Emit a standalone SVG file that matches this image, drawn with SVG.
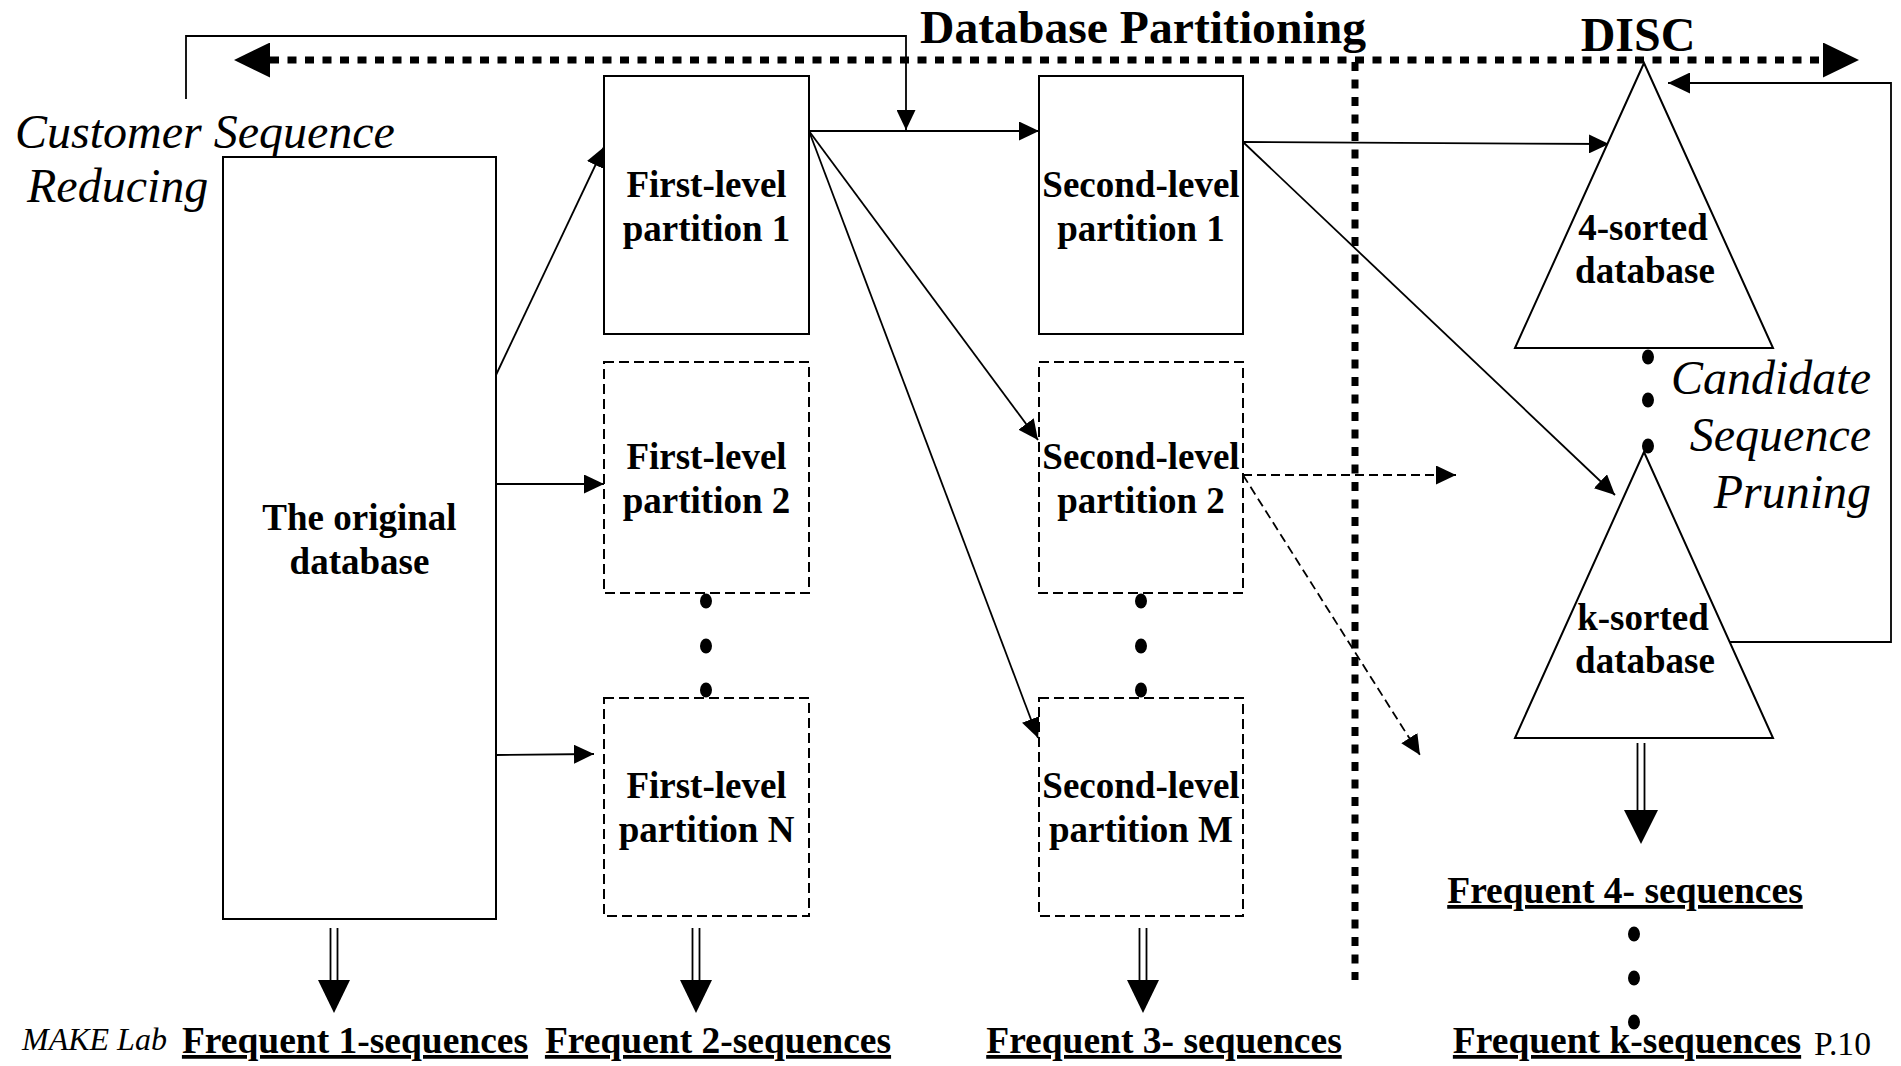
<svg xmlns="http://www.w3.org/2000/svg" width="1901" height="1066" viewBox="0 0 1901 1066">
<style>
.box{fill:#fff;stroke:#000;stroke-width:2}
.dbox{fill:#fff;stroke:#000;stroke-width:2;stroke-dasharray:10 5}
.lbl{font-family:"Liberation Serif","Times New Roman",serif;font-weight:bold;font-size:37px;text-anchor:middle;fill:#000}
.it{font-family:"Liberation Serif","Times New Roman",serif;font-style:italic;font-size:48px;fill:#000}
.ul{font-family:"Liberation Serif","Times New Roman",serif;font-weight:bold;font-size:37.5px;text-anchor:middle;text-decoration:underline;fill:#000}
.ln{fill:none;stroke:#000;stroke-width:1.8}
.dl{fill:none;stroke:#000;stroke-width:1.8;stroke-dasharray:9 5}
.dot{fill:none;stroke:#000;stroke-width:7;stroke-dasharray:9 8.5}
.dd{fill:#000}
</style>
<defs>
<marker id="ar" markerUnits="userSpaceOnUse" markerWidth="20" markerHeight="19" viewBox="0 0 20 19" refX="20" refY="9.5" orient="auto"><path d="M0,0 L20,9.5 L0,19z" fill="#000"/></marker>
<marker id="fb" markerUnits="userSpaceOnUse" markerWidth="22" markerHeight="21" viewBox="0 0 22 21" refX="22" refY="10.5" orient="auto-start-reverse"><path d="M0,0 L22,10.5 L0,21z" fill="#000"/></marker>
<marker id="big" markerUnits="userSpaceOnUse" markerWidth="36" markerHeight="35" viewBox="0 0 36 35" refX="0" refY="17.5" orient="auto-start-reverse"><path d="M0,0 L36,17.5 L0,35z" fill="#000"/></marker>
</defs>
<rect width="1901" height="1066" fill="#fff"/>

<g id="connectors">
  <path class="dot" d="M270,60 H1823" marker-start="url(#big)" marker-end="url(#big)"/>
  <path class="dot" d="M1355,62 V980"/>
  <path class="ln" d="M186,99 V36 H906 V130" marker-end="url(#ar)"/>
  <path class="ln" d="M496,375 L604,147" marker-end="url(#ar)"/>
  <path class="ln" d="M496,484 H604" marker-end="url(#ar)"/>
  <path class="ln" d="M496,755 L594,754" marker-end="url(#ar)"/>
  <path class="ln" d="M809,131 H1039" marker-end="url(#ar)"/>
  <path class="ln" d="M809,131 L1038,440" marker-end="url(#ar)"/>
  <path class="ln" d="M809,131 L1038,738" marker-end="url(#ar)"/>
  <path class="ln" d="M1243,142 L1609,144" marker-end="url(#ar)"/>
  <path class="ln" d="M1243,142 L1615,495" marker-end="url(#ar)"/>
  <path class="dl" d="M1243,475 H1456" marker-end="url(#ar)"/>
  <path class="dl" d="M1243,475 L1420,755" marker-end="url(#ar)"/>
  <path class="ln" d="M1668,83 H1891 V642 H1690" marker-start="url(#fb)" marker-end="url(#fb)"/>
  <g id="dbl1"><path class="ln" d="M330.5,928 V982 M337.5,928 V982"/><path d="M318,980 L350,980 L334,1013z" fill="#000"/></g>
  <g id="dbl2"><path class="ln" d="M692.5,928 V982 M699.5,928 V982"/><path d="M680,980 L712,980 L696,1013z" fill="#000"/></g>
  <g id="dbl3"><path class="ln" d="M1139.5,928 V982 M1146.5,928 V982"/><path d="M1127,980 L1159,980 L1143,1013z" fill="#000"/></g>
  <g id="dbl4"><path class="ln" d="M1637.5,743 V812 M1644.5,743 V812"/><path d="M1624,810 L1658,810 L1641,844z" fill="#000"/></g>
</g>

<g id="title"><text x="1143" y="43" textLength="446" lengthAdjust="spacingAndGlyphs" style="font-family:'Liberation Serif','Times New Roman',serif;font-weight:bold;font-size:47px;text-anchor:middle">Database Partitioning</text></g>
<g id="disc"><text x="1638" y="51" style="font-family:'Liberation Serif','Times New Roman',serif;font-weight:bold;font-size:48px;text-anchor:middle">DISC</text></g>

<g id="csr"><text class="it" x="15" y="148">Customer Sequence</text><text class="it" x="27" y="202">Reducing</text></g>
<g id="csp"><text class="it" x="1871" y="394" text-anchor="end">Candidate</text><text class="it" x="1871" y="451" text-anchor="end">Sequence</text><text class="it" x="1871" y="508" text-anchor="end">Pruning</text></g>

<g id="original-db"><rect class="box" x="223" y="157" width="273" height="762"/><text class="lbl" x="359.5" y="530">The original</text><text class="lbl" x="359.5" y="574">database</text></g>

<g id="fl1"><rect class="box" x="604" y="76" width="205" height="258"/><text class="lbl" x="706.5" y="197">First-level</text><text class="lbl" x="706.5" y="241">partition 1</text></g>
<g id="fl2"><rect class="dbox" x="604" y="362" width="205" height="231"/><text class="lbl" x="706.5" y="469">First-level</text><text class="lbl" x="706.5" y="513">partition 2</text></g>
<g id="flN"><rect class="dbox" x="604" y="698" width="205" height="218"/><text class="lbl" x="706.5" y="798">First-level</text><text class="lbl" x="706.5" y="842">partition N</text></g>
<g id="fl-dots"><ellipse class="dd" cx="706" cy="601" rx="6" ry="7.5"/><ellipse class="dd" cx="706" cy="646" rx="6" ry="7.5"/><ellipse class="dd" cx="706" cy="690" rx="6" ry="7.5"/></g>

<g id="sl1"><rect class="box" x="1039" y="76" width="204" height="258"/><text class="lbl" x="1141" y="197">Second-level</text><text class="lbl" x="1141" y="241">partition 1</text></g>
<g id="sl2"><rect class="dbox" x="1039" y="362" width="204" height="231"/><text class="lbl" x="1141" y="469">Second-level</text><text class="lbl" x="1141" y="513">partition 2</text></g>
<g id="slM"><rect class="dbox" x="1039" y="698" width="204" height="218"/><text class="lbl" x="1141" y="798">Second-level</text><text class="lbl" x="1141" y="842">partition M</text></g>
<g id="sl-dots"><ellipse class="dd" cx="1141" cy="601" rx="6" ry="7.5"/><ellipse class="dd" cx="1141" cy="646" rx="6" ry="7.5"/><ellipse class="dd" cx="1141" cy="690" rx="6" ry="7.5"/></g>

<g id="sorted4"><polygon class="box" points="1644,63 1515,348 1773,348"/><text class="lbl" x="1643" y="240">4-sorted</text><text class="lbl" x="1645" y="283">database</text></g>
<g id="tri-dots"><ellipse class="dd" cx="1648" cy="357" rx="6" ry="7.5"/><ellipse class="dd" cx="1648" cy="400" rx="6" ry="7.5"/><ellipse class="dd" cx="1648" cy="446" rx="6" ry="7.5"/></g>
<g id="sortedk"><polygon class="box" points="1644,452 1515,738 1773,738"/><text class="lbl" x="1643" y="630">k-sorted</text><text class="lbl" x="1645" y="673">database</text></g>

<g id="f1"><text class="ul" x="355" y="1053">Frequent 1-sequences</text></g>
<g id="f2"><text class="ul" x="718" y="1053">Frequent 2-sequences</text></g>
<g id="f3"><text class="ul" x="1164" y="1053">Frequent 3- sequences</text></g>
<g id="f4"><text class="ul" x="1625" y="903">Frequent 4- sequences</text></g>
<g id="fk-dots"><ellipse class="dd" cx="1634" cy="934" rx="6" ry="7.5"/><ellipse class="dd" cx="1634" cy="978" rx="6" ry="7.5"/><ellipse class="dd" cx="1634" cy="1022" rx="6" ry="7.5"/></g>
<g id="fk"><text class="ul" x="1627" y="1053">Frequent k-sequences</text></g>

<g id="footer"><text x="22" y="1050" style="font-family:'Liberation Serif','Times New Roman',serif;font-style:italic;font-size:32px">MAKE Lab</text><text x="1814" y="1055" textLength="57" lengthAdjust="spacingAndGlyphs" style="font-family:'Liberation Serif','Times New Roman',serif;font-size:33px">P.10</text></g>
</svg>
